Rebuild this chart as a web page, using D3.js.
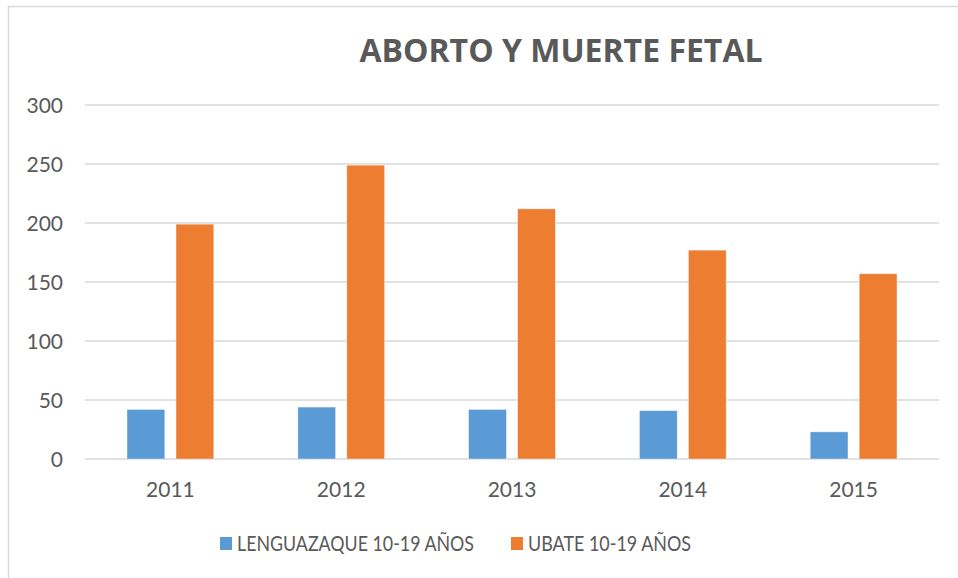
<!DOCTYPE html>
<meta charset="utf-8">
<head>
<style>

body {
  margin: 0;
  background: #fff;
}

.grid line {
  stroke: #d9d9d9;
  stroke-width: 1.3px;
}

.axis text, .legend text {
  font-family: Lato, "Open Sans", sans-serif;
  fill: #595959;
}

.title {
  font-family: "Open Sans", Lato, sans-serif;
  font-weight: bold;
  fill: #595959;
}

</style>
<script src="https://d3js.org/d3.v7.min.js"></script>
</head>

<body>
<svg width="958" height="578"></svg>
<script>

var years = ["2011", "2012", "2013", "2014", "2015"];
var seriesNames = ["LENGUAZAQUE 10-19 AÑOS", "UBATE 10-19 AÑOS"];
var lenguazaque = [42, 44, 42, 41, 23];
var ubate = [199, 249, 212, 177, 157];
var yTicks = [0, 50, 100, 150, 200, 250, 300];
var colors = ["#5b9bd5", "#ed7d31"];

var svg = d3.select("svg"),
    width = +svg.attr("width"),
    height = +svg.attr("height");

// chart border (runs off the right and bottom edges)
svg.append("rect")
    .attr("x", 8.5)
    .attr("y", 6.5)
    .attr("width", width + 20)
    .attr("height", height + 20)
    .attr("fill", "none")
    .attr("stroke", "#d9d9d9")
    .attr("stroke-width", 1.5);

var plotLeft = 85, plotRight = 939, plotTop = 105, plotBottom = 459;

var x0 = d3.scaleBand()
    .domain(years)
    .range([plotLeft, plotRight]);

var x1 = d3.scaleBand()
    .domain(seriesNames)
    .range([x0.bandwidth() * 0.246, x0.bandwidth() * 0.754])
    .paddingInner(0.229);

var y = d3.scaleLinear()
    .domain([0, 300])
    .range([plotBottom, plotTop]);

svg.append("text")
    .attr("class", "title")
    .attr("x", 561)
    .attr("y", 62)
    .attr("text-anchor", "middle")
    .style("font-size", "32px")
    .text("ABORTO Y MUERTE FETAL");

svg.append("g")
    .attr("class", "grid")
  .selectAll("line")
  .data(yTicks)
  .enter().append("line")
    .attr("x1", plotLeft)
    .attr("x2", plotRight)
    .attr("y1", function(d) { return y(d); })
    .attr("y2", function(d) { return y(d); });

var yAxis = svg.append("g")
    .attr("class", "axis")
    .attr("transform", "translate(" + 63 + ",0)")
    .call(d3.axisLeft(y).tickValues(yTicks).tickSize(0).tickPadding(0));
yAxis.select(".domain").remove();
yAxis.selectAll("text").style("font-size", "21px").attr("dy", "0.35em");

var xAxis = svg.append("g")
    .attr("class", "axis")
    .attr("transform", "translate(0," + plotBottom + ")")
    .call(d3.axisBottom(x0).tickSize(0).tickPadding(0));
xAxis.select(".domain").remove();
xAxis.selectAll("text").style("font-size", "21px").attr("dy", "0").attr("y", 38);

var rows = years.map(function(yr, i) {
  return { year: yr, values: [lenguazaque[i], ubate[i]] };
});

var groups = svg.append("g")
  .selectAll("g")
  .data(rows)
  .enter().append("g")
    .attr("transform", function(d) { return "translate(" + x0(d.year) + ",0)"; });

groups.selectAll("rect")
  .data(function(d) { return d.values.map(function(v, j) { return { name: seriesNames[j], value: v, idx: j }; }); })
  .enter().append("rect")
    .attr("x", function(d) { return x1(d.name); })
    .attr("width", x1.bandwidth())
    .attr("y", function(d) { return y(d.value); })
    .attr("height", function(d) { return y(0) - y(d.value); })
    .attr("fill", function(d) { return colors[d.idx]; })
    .attr("stroke", "#fff")
    .attr("stroke-opacity", 0.5)
    .attr("stroke-width", 0.75);

// legend
var legendX = [220, 511];
var legendW = [237, 163];
var legend = svg.append("g")
    .attr("class", "legend")
  .selectAll("g")
  .data(seriesNames)
  .enter().append("g")
    .attr("transform", function(d, i) { return "translate(" + legendX[i] + ",537)"; });

legend.append("rect")
    .attr("width", 12)
    .attr("height", 13)
    .attr("fill", function(d, i) { return colors[i]; });

legend.append("text")
    .attr("x", 17)
    .attr("y", 14)
    .style("font-size", "22px")
    .attr("textLength", function(d, i) { return legendW[i]; })
    .attr("lengthAdjust", "spacingAndGlyphs")
    .text(function(d) { return d; });

</script>
</body>
